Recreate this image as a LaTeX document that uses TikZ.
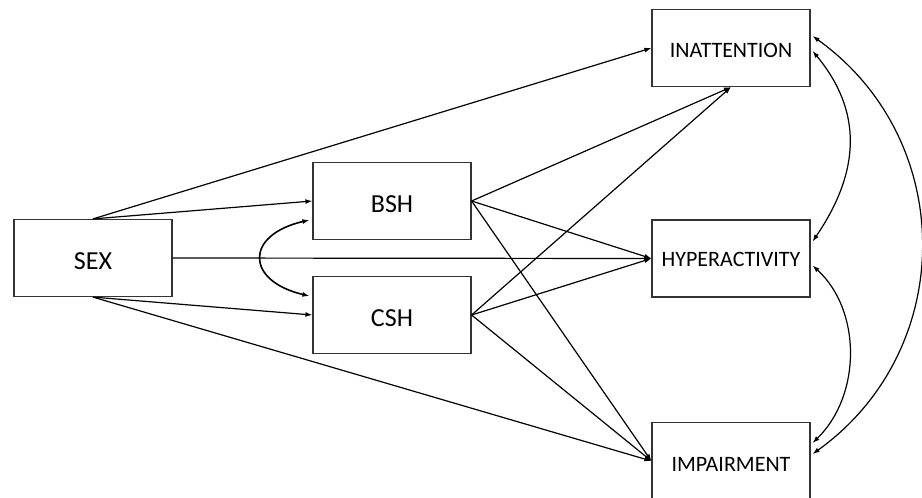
\documentclass[tikz,border=0pt]{standalone}
\usepackage{fontspec}
\setmainfont{Carlito}
\usetikzlibrary{arrows.meta}
\begin{document}
\begin{tikzpicture}[x=1pt,y=-1pt,
  varbox/.style={draw=black!80,line width=1.2pt,minimum width=158pt,minimum height=77pt,inner sep=0pt},
  bigtext/.style={font=\fontsize{26}{30}\selectfont,inner sep=0pt},
  smalltext/.style={font=\fontsize{22}{26}\selectfont,inner sep=0pt},
  path/.style={draw=black,line width=1.2pt,-{Latex[length=7pt,width=5pt]}},
  cov/.style={draw=black,line width=1.2pt,{Latex[length=7pt,width=5pt]}-{Latex[length=7pt,width=5pt]}},
  cov2/.style={cov,line width=1.6pt}]
\useasboundingbox (0,0) rectangle (922,498);
\node[varbox,label={[bigtext,yshift=-3.5pt]center:SEX}] (sex) at (93,258) {};
\node[varbox,label={[bigtext,yshift=-3.5pt]center:BSH}] (bsh) at (392,201) {};
\node[varbox,label={[bigtext,yshift=-3.5pt]center:CSH}] (csh) at (392,315) {};
\node[varbox,label={[smalltext,yshift=-2pt]center:INATTENTION}] (inat) at (731,48) {};
\node[varbox,label={[smalltext,yshift=-1pt]center:HYPERACTIVITY}] (hyp) at (731,258.5) {};
\node[varbox,label={[smalltext,yshift=-3.5pt]center:IMPAIRMENT}] (imp) at (731,461) {};
% paths
\draw[path] (sex.north) -- (inat.west);
\draw[path] (sex.north) -- (bsh.west);
\draw[path] (sex.east) -- (hyp.west);
\draw[path] (sex.south) -- (csh.west);
\draw[path] (sex.south) -- (imp.west);
\draw[path] (bsh.east) -- (inat.south);
\draw[path] (bsh.east) -- (hyp.west);
\draw[path] (bsh.east) -- (imp.west);
\draw[path] (csh.east) -- (inat.south);
\draw[path] (csh.east) -- (hyp.west);
\draw[path] (csh.east) -- (imp.west);
% covariances
\coordinate (b1) at ([xshift=-3pt,yshift=-19pt]bsh.west);
\coordinate (c1) at ([xshift=-3pt,yshift=19pt]csh.west);
\draw[cov2] (b1) .. controls +(-65,15) and +(-64,-15) .. (c1);
\coordinate (i1) at ([xshift=2pt,yshift=-3pt]inat.east);
\coordinate (i2) at ([xshift=2pt,yshift=12pt]inat.east);
\coordinate (h1) at ([xshift=2pt,yshift=17pt]hyp.east);
\coordinate (h2) at ([xshift=2pt,yshift=-7pt]hyp.east);
\coordinate (m1) at ([xshift=2pt,yshift=18pt]imp.east);
\coordinate (m2) at ([xshift=2pt,yshift=7pt]imp.east);
\draw[cov] (i1) .. controls +(49,59) and +(49,-72) .. (h1);
\draw[cov] (h2) .. controls +(49,45) and +(49,-48) .. (m1);
\draw[cov] (i2) .. controls +(145,104) and +(145,-104) .. (m2);
\end{tikzpicture}
\end{document}
